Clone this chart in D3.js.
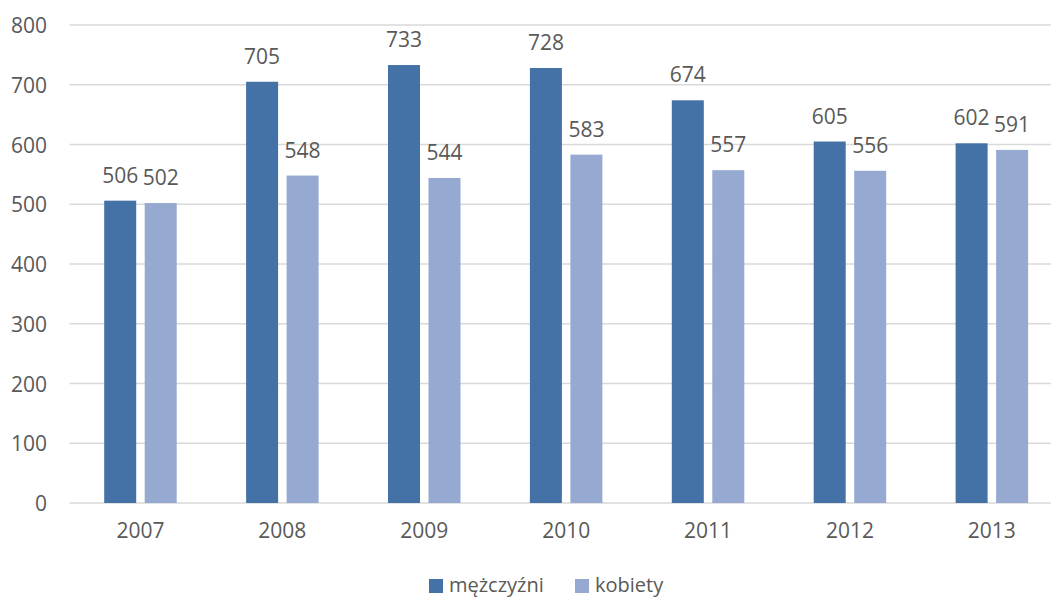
<!DOCTYPE html>
<html><head><meta charset="utf-8">
<script src="https://cdn.jsdelivr.net/npm/d3@7/dist/d3.min.js"></script>
<style>body{margin:0;background:#fff;}svg{display:block;}text{font-family:"Open Sans","Liberation Sans",sans-serif;fill:#595959;}</style>
</head><body><svg id="c" width="1051" height="599"></svg>
<script>
const categories = ["2007","2008","2009","2010","2011","2012","2013"];
const seriesNames = ["mężczyźni","kobiety"];
const men = [506,705,733,728,674,605,602];
const women = [502,548,544,583,557,556,591];
const yTicks = [0,100,200,300,400,500,600,700,800];
const colors = ["#4472a7","#95a9d1"];

const svg = d3.select("#c");
const fs = 21;
const left = 69.5, bandW = 141.9;
const x = d3.scaleBand().domain(categories).range([left, left + bandW*categories.length]).paddingInner(0).paddingOuter(0);
const y = d3.scaleLinear().domain([0,800]).range([503,25]);
const barW = 32, gap = 8.5;

// gridlines
svg.append("g").selectAll("line").data(yTicks).join("line")
  .attr("x1", left).attr("x2", 1051)
  .attr("y1", d=>y(d)).attr("y2", d=>y(d))
  .attr("stroke", "#d9d9d9").attr("stroke-width", 1.3);

// y axis labels
const yAxis = d3.axisLeft(y).tickValues(yTicks).tickSize(0).tickPadding(0);
const ya = svg.append("g").attr("transform", `translate(47,0)`).call(yAxis);
ya.select(".domain").remove();
ya.selectAll("text").style("font-size", fs+"px").attr("fill","#595959").attr("dy","0.36em");

// x axis labels
const xAxis = d3.axisBottom(x).tickSize(0).tickPadding(0);
const xa = svg.append("g").attr("transform", `translate(0,522)`).call(xAxis);
xa.select(".domain").remove();
xa.selectAll("text").style("font-size", fs+"px").attr("fill","#595959").attr("dy","0.76em");

const series = [men, women];
series.forEach((vals, si) => {
  const g = svg.append("g");
  const bx = (i) => x(categories[i]) + bandW/2 + (si===0 ? -(gap/2 + barW) : gap/2);
  g.selectAll("rect").data(vals).join("rect")
    .attr("x", (d,i)=>bx(i)).attr("width", barW)
    .attr("y", d=>y(d)).attr("height", d=>y(0)-y(d))
    .attr("fill", colors[si]);
  g.selectAll("text").data(vals).join("text")
    .attr("x", (d,i)=>bx(i)+barW/2).attr("y", d=>y(d)-18)
    .attr("text-anchor","middle").style("font-size", fs+"px")
    .text(d=>d);
});

// legend
const leg = svg.append("g");
const legItems = [{x:429, name:seriesNames[0], c:colors[0]},{x:575, name:seriesNames[1], c:colors[1]}];
legItems.forEach(it=>{
  leg.append("rect").attr("x", it.x).attr("y", 579).attr("width",14).attr("height",14).attr("fill", it.c);
  leg.append("text").attr("x", it.x+20).attr("y", 592).style("font-size", "20px").text(it.name);
});
</script></body></html>
